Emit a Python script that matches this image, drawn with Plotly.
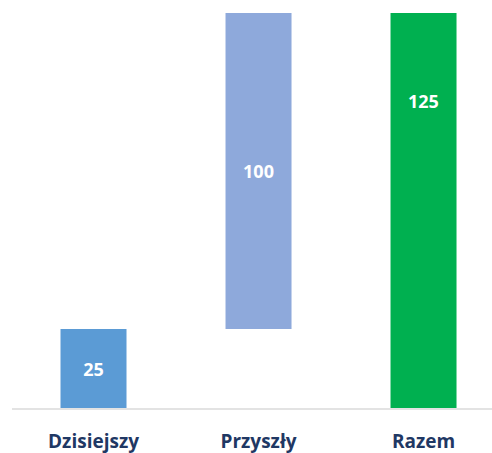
import plotly.graph_objects as go

categories = ["Dzisiejszy", "Przyszły", "Razem"]
values = [25, 100, 125]
bases = [0, 25, 0]
colors = ["#5B9BD5", "#8EA9DB", "#00B050"]
labels = ["25", "100", ""]
total_label = "125"
total_label_y = 97

fig = go.Figure()
fig.add_trace(go.Bar(
    x=categories, y=values, base=bases,
    marker=dict(color=colors, line=dict(width=0)),
    width=0.4,
    text=labels, textposition="inside", insidetextanchor="middle",
    textangle=0,
    textfont=dict(color="white", size=18, family="Open Sans", weight="bold"),
    hoverinfo="skip",
))
fig.add_annotation(x=categories[2], y=total_label_y, text=total_label, showarrow=False,
                   font=dict(color="white", size=18, family="Open Sans", weight="bold"))

fig.update_layout(
    width=492, height=453,
    margin=dict(l=12, r=0, t=13, b=45),
    paper_bgcolor="white", plot_bgcolor="white",
    showlegend=False,
    xaxis=dict(range=[-0.494, 2.415], showgrid=False, zeroline=False,
               showline=True, linecolor="#E3E3E3", linewidth=2,
               ticks="", ticklabelstandoff=15,
               tickfont=dict(color="#1F3864", size=19, family="Open Sans", weight="bold")),
    yaxis=dict(range=[0, 125], visible=False, showgrid=False, zeroline=False),
)
fig.write_html("out.html")
